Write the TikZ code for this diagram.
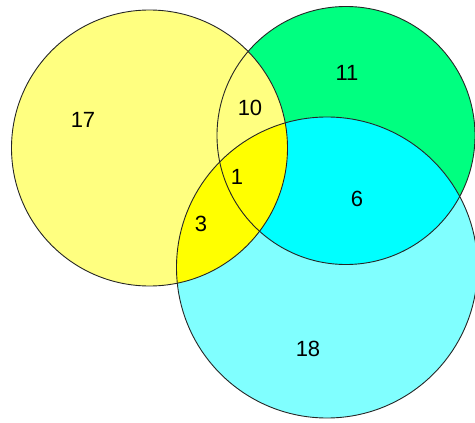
\documentclass[tikz,border=0pt]{standalone}
\usepackage{fontspec}
\setmainfont{Liberation Sans}
\usepackage{tikz}
\usetikzlibrary{positioning}

\definecolor{paleyellow}{HTML}{FFFF80}
\definecolor{brightyellow}{HTML}{FFFF00}
\definecolor{springgreen}{HTML}{00FF80}
\definecolor{palecyan}{HTML}{80FFFF}
\definecolor{fullcyan}{HTML}{00FFFF}

\begin{document}
\begin{tikzpicture}[x=1pt,y=-1pt,
    count/.style={font=\fontsize{22}{24}\selectfont, inner sep=0pt}]
			\useasboundingbox (0,0) rectangle (475,423);
			\def\setA{(149.5,148) circle (138pt)}
			\def\setB{(346,135.5) circle (129pt)}
			\def\setC{(327,267.5) circle (150.5pt)}

			% fills
			\fill[springgreen] \setB;
			\fill[palecyan] \setC;
			\begin{scope}
				\clip \setC;
				\fill[fullcyan] \setB;
			\end{scope}
			\fill[paleyellow] \setA;
			\begin{scope}
				\clip \setA;
				\fill[brightyellow] \setC;
			\end{scope}

			% outlines
			\draw[line width=0.9pt, black!85] \setA;
			\draw[line width=0.9pt, black!85] \setB;
			\draw[line width=0.9pt, black!85] \setC;

			\node[count] (a) at (83,120) {17};
			\node[count] (b) at (347,73) {11};
			\node[count] (ab) at (250,108) {10};
			\node[count] (abc) at (237,177) {1};
			\node[count] (ac) at (201,224) {3};
			\node[count] (bc) at (357,199) {6};
			\node[count] (c) at (308,349) {18};
		\end{tikzpicture}
\end{document}
